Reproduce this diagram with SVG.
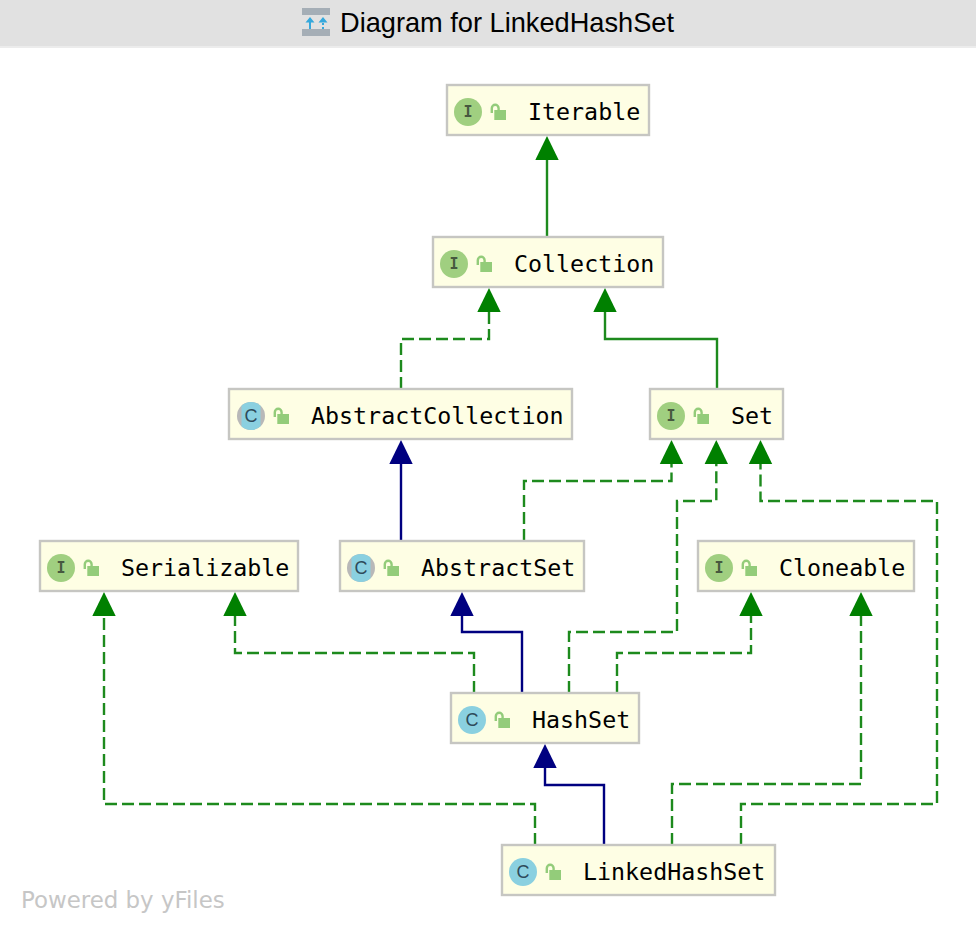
<svg xmlns="http://www.w3.org/2000/svg" width="976" height="932" viewBox="0 0 976 932">
<style>
.box{fill:#fefee4;stroke:#c6c6c2;stroke-width:2.400}
.lbl{font-family:"DejaVu Sans Mono",monospace;font-size:23.300px;fill:#000}
.ic{font-family:"DejaVu Sans Mono",monospace;font-size:15px;font-weight:bold;fill:#46583f;text-anchor:middle}
.cc{font-family:"Liberation Sans",sans-serif;font-size:18px;fill:#2e4a5a;text-anchor:middle}
.if{fill:#a0cf80}.cl{fill:#8ad0e0}.ab{fill:#b8b8b8}.lk{fill:#93cc7a}
.sh{fill:none;stroke:#93cc7a;stroke-width:2.400}
.e{fill:none;stroke-width:2.400}
.g{stroke:#1d8a1d}.n{stroke:#000080}
.d{stroke-dasharray:12 5}
.hg{fill:#008000}.hn{fill:#000080}
</style>
<defs>
<g id="lock"><path class="sh" d="M1.800 8V3.200a3.400 3.400 0 0 1 6.800 0V5"/><rect class="lk" x="4.300" y="5" width="11.700" height="10"/></g>
<polygon id="ag" class="hg" points="0,0 11.700,24 -11.700,24"/>
<polygon id="an" class="hn" points="0,0 11.700,24 -11.700,24"/>
<g id="abs"><circle class="ab" r="14"/><path class="cl" d="M-9.500-10.300A14 14 0 0 1 9.500-10.300V10.300A14 14 0 0 1-9.500 10.300Z"/></g>
</defs>
<rect width="976" height="47" fill="#e1e1e1"/>
<rect y="46" width="976" height="2" fill="#ececec"/>
<g id="title-icon">
<rect x="302" y="8" width="28" height="7" fill="#a5aeb6"/>
<rect x="302" y="29" width="28" height="7" fill="#a5aeb6"/>
<path d="M310 29V20" stroke="#35a8dc" stroke-width="2" fill="none"/>
<path d="M323 29V20" stroke="#35a8dc" stroke-width="2" stroke-dasharray="2 2" fill="none"/>
<path d="M310 17l-4.500 5.500h9zM323 17l-4.500 5.500h9z" fill="#35a8dc"/>
</g>
<text x="340" y="32" font-family="Liberation Sans, Arial, sans-serif" font-size="27.200" fill="#000">Diagram for LinkedHashSet</text>
<g id="connectors">
<path class="e g" d="M547 237V160"/>
<use href="#ag" x="547" y="136"/>
<path class="e g d" d="M401 389V339H489V312"/>
<use href="#ag" x="489" y="288"/>
<path class="e g" d="M717 389V339H605V312"/>
<use href="#ag" x="605" y="288"/>
<path class="e n" d="M401 541V464"/>
<use href="#an" x="401" y="440"/>
<path class="e g d" d="M524 541V481H671.500V464"/>
<use href="#ag" x="671.500" y="440"/>
<path class="e g d" d="M569 693V632H677V501H716.300V464"/>
<use href="#ag" x="716.300" y="440"/>
<path class="e g d" d="M741 845V804H937V501H760.500V464"/>
<use href="#ag" x="760.500" y="440"/>
<path class="e g d" d="M474 693V653H235V616"/>
<use href="#ag" x="235" y="592"/>
<path class="e n" d="M522 693V632H462V616"/>
<use href="#an" x="462" y="592"/>
<path class="e g d" d="M617 693V653H751V616"/>
<use href="#ag" x="751" y="592"/>
<path class="e g d" d="M672 845V784H861V616"/>
<use href="#ag" x="861" y="592"/>
<path class="e g d" d="M535 845V804H104V616"/>
<use href="#ag" x="104" y="592"/>
<path class="e n" d="M604 845V785H545V768"/>
<use href="#an" x="545" y="744"/>
</g>
<g id="Iterable">
<rect class="box" x="447" y="85" width="202" height="50"/>
<circle class="if" cx="468" cy="112" r="14"/><text class="ic" x="468" y="117">I</text>
<use href="#lock" x="490" y="105"/>
<text class="lbl" x="528" y="120">Iterable</text>
</g>
<g id="Collection">
<rect class="box" x="433" y="237" width="230" height="50"/>
<circle class="if" cx="454" cy="264" r="14"/><text class="ic" x="454" y="269">I</text>
<use href="#lock" x="476" y="257"/>
<text class="lbl" x="514" y="272">Collection</text>
</g>
<g id="AbstractCollection">
<rect class="box" x="229" y="389" width="343" height="50"/>
<use href="#abs" x="251" y="416"/><text class="cc" x="251" y="422">C</text>
<use href="#lock" x="273" y="409"/>
<text class="lbl" x="311" y="424">AbstractCollection</text>
</g>
<g id="Set">
<rect class="box" x="650" y="389" width="133" height="50"/>
<circle class="if" cx="671" cy="416" r="14"/><text class="ic" x="671" y="421">I</text>
<use href="#lock" x="693" y="409"/>
<text class="lbl" x="731" y="424">Set</text>
</g>
<g id="Serializable">
<rect class="box" x="40" y="541" width="258" height="50"/>
<circle class="if" cx="61" cy="568" r="14"/><text class="ic" x="61" y="573">I</text>
<use href="#lock" x="83" y="561"/>
<text class="lbl" x="121" y="576">Serializable</text>
</g>
<g id="AbstractSet">
<rect class="box" x="340" y="541" width="244" height="50"/>
<use href="#abs" x="361" y="568"/><text class="cc" x="361" y="574">C</text>
<use href="#lock" x="383" y="561"/>
<text class="lbl" x="421" y="576">AbstractSet</text>
</g>
<g id="Cloneable">
<rect class="box" x="698" y="541" width="216" height="50"/>
<circle class="if" cx="719" cy="568" r="14"/><text class="ic" x="719" y="573">I</text>
<use href="#lock" x="741" y="561"/>
<text class="lbl" x="779" y="576">Cloneable</text>
</g>
<g id="HashSet">
<rect class="box" x="451" y="693" width="188" height="50"/>
<circle class="cl" cx="472" cy="720" r="14"/><text class="cc" x="472" y="726">C</text>
<use href="#lock" x="494" y="713"/>
<text class="lbl" x="532" y="728">HashSet</text>
</g>
<g id="LinkedHashSet">
<rect class="box" x="502" y="845" width="273" height="50"/>
<circle class="cl" cx="523" cy="872" r="14"/><text class="cc" x="523" y="878">C</text>
<use href="#lock" x="545" y="865"/>
<text class="lbl" x="583" y="880">LinkedHashSet</text>
</g>
<text x="21" y="908" font-family="DejaVu Sans, sans-serif" font-size="22.900" fill="#c6c6c6">Powered by yFiles</text>
</svg>
